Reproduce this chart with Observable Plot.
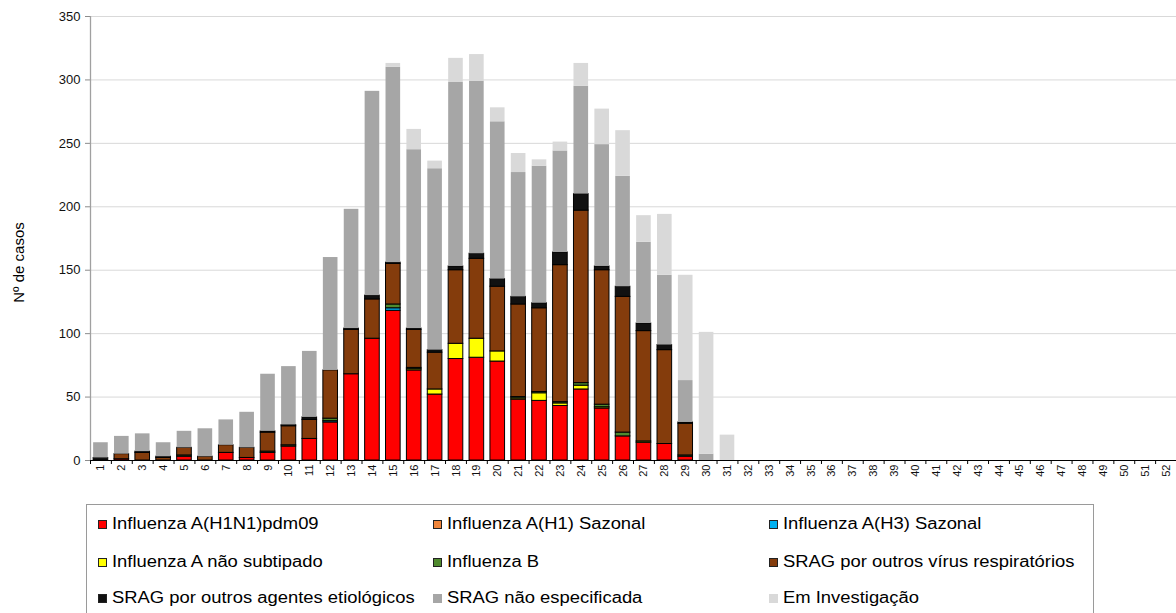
<!DOCTYPE html>
<html><head><meta charset="utf-8">
<script src="https://cdn.jsdelivr.net/npm/d3@7"></script>
<script src="https://cdn.jsdelivr.net/npm/@observablehq/plot@0.6"></script>
<style>
html,body{margin:0;padding:0;background:#fff;overflow:hidden;width:1176px;height:613px;}
#chart{position:absolute;left:0;top:0;width:1176px;}
#chart svg{max-width:none !important;}
#chart svg g[aria-label^="x-axis"] text{font-size:11px;}
#chart svg g[aria-label^="y-axis"] text{font-size:13px;}
#chart svg g[aria-label^="y-axis"] line, #chart svg g[aria-label^="y-axis"] path{stroke:#8c8c8c;}
#legend{position:absolute;left:86px;top:504px;width:1008px;height:140px;border:1px solid #9a9a9a;box-sizing:border-box;font-family:"Liberation Sans",Arial,sans-serif;background:#fff;}
.item{position:absolute;display:flex;align-items:center;height:20px;white-space:nowrap;}
.sw{width:7px;height:7px;border:1px solid #222;margin-right:5px;flex:none;}
.lbl{font-size:16px;color:#000;display:inline-block;transform:scaleX(1.15);transform-origin:left center;}
</style></head>
<body><div id="chart"></div><div id="legend"></div>
<script>
const weeks = [1,2,3,4,5,6,7,8,9,10,11,12,13,14,15,16,17,18,19,20,21,22,23,24,25,26,27,28,29,30,31,32,33,34,35,36,37,38,39,40,41,42,43,44,45,46,47,48,49,50,51,52];
const yTicks = [0,50,100,150,200,250,300,350];
const series = ["Influenza A(H1N1)pdm09","Influenza A(H1) Sazonal","Influenza A(H3) Sazonal","Influenza A não subtipado","Influenza B","SRAG por outros vírus respiratórios","SRAG por outros agentes etiológicos","SRAG não especificada","Em Investigação"];
const colors = ["#ff0000","#f0853a","#00b0f0","#ffff00","#4f8a2e","#843c0c","#111111","#a6a6a6","#d9d9d9"];
const outlined = ["Influenza A(H1N1)pdm09","Influenza A(H1) Sazonal","Influenza A(H3) Sazonal","Influenza A não subtipado","Influenza B","SRAG por outros vírus respiratórios","SRAG por outros agentes etiológicos"];

const h1n1     = [0,1,0,0,3,0,6,2,6,11,17,30,68,96,118,71,52,80,81,78,48,47,43,56,41,19,14,13,3,0,0,0,0,0,0,0,0,0,0,0,0,0,0,0,0,0,0,0,0,0,0,0];
const h1saz    = [0,0,0,0,0,0,0,0,0,0,0,0,0,0,0,0,0,0,0,0,0,0,0,0,0,0,0,0,0,0,0,0,0,0,0,0,0,0,0,0,0,0,0,0,0,0,0,0,0,0,0,0];
const h3saz    = [0,0,0,0,0,0,0,0,0,0,0,1,0,0,2,0,0,0,0,0,0,0,0,0,0,0,0,0,0,0,0,0,0,0,0,0,0,0,0,0,0,0,0,0,0,0,0,0,0,0,0,0];
const naoSub   = [0,0,0,0,0,0,0,0,0,0,0,0,0,0,0,1,4,12,15,8,1,6,2,3,1,0,1,0,0,0,0,0,0,0,0,0,0,0,0,0,0,0,0,0,0,0,0,0,0,0,0,0];
const fluB     = [0,0,0,0,1,0,0,0,1,1,0,2,0,0,3,1,0,0,0,0,1,1,1,2,2,3,0,0,1,0,0,0,0,0,0,0,0,0,0,0,0,0,0,0,0,0,0,0,0,0,0,0];
const outVir   = [0,4,6,2,6,3,6,8,15,15,15,38,35,31,32,30,29,58,63,51,73,66,108,136,106,107,87,74,25,0,0,0,0,0,0,0,0,0,0,0,0,0,0,0,0,0,0,0,0,0,0,0];
const outAg    = [2,0,1,1,0,0,0,0,1,1,2,0,1,3,1,1,2,3,4,6,6,4,10,13,3,8,6,4,1,0,0,0,0,0,0,0,0,0,0,0,0,0,0,0,0,0,0,0,0,0,0,0];
const naoEsp   = [12,14,14,11,13,22,20,28,45,46,52,89,94,161,154,141,143,145,136,124,98,108,80,85,96,87,64,55,33,5,0,0,0,0,0,0,0,0,0,0,0,0,0,0,0,0,0,0,0,0,0,0];
const emInv    = [0,0,0,0,0,0,0,0,0,0,0,0,0,0,3,16,6,19,21,11,15,5,7,18,28,36,21,48,83,96,20,0,0,0,0,0,0,0,0,0,0,0,0,0,0,0,0,0,0,0,0,0];
const values = [h1n1,h1saz,h3saz,naoSub,fluB,outVir,outAg,naoEsp,emInv];

const data = [];
weeks.forEach((w, i) => series.forEach((s, j) => {
  const v = values[j][i];
  if (v > 0) data.push({week: w, series: s, value: v});
}));

const W = 1176, H = 495, ML = 90, MR = 0;
const step = (W - ML - MR) / weeks.length;

const chart = Plot.plot({
  width: W, height: H, marginLeft: ML, marginRight: MR, marginTop: 16, marginBottom: 35,
  style: {fontFamily: "'Liberation Sans', Arial, sans-serif", fontSize: "12px", background: "white", color: "#111", maxWidth: "none"},
  x: {type: "band", domain: weeks, paddingInner: 0.3, paddingOuter: 0.15, tickSize: 0, tickPadding: 4, tickRotate: -90, label: null},
  y: {domain: [0, 350], ticks: yTicks, tickSize: 5, tickPadding: 5, label: null},
  color: {domain: series, range: colors},
  opacity: {domain: [0, 1], range: [0, 1]},
  marks: [
    Plot.ruleY(yTicks.filter(t => t > 0), {stroke: "#d9d9d9", strokeWidth: 1}),
    Plot.barY(data, {x: "week", y: "value", fill: "series", order: series, stroke: "#000", strokeWidth: 1,
      strokeOpacity: d => outlined.includes(d.series) ? 1 : 0}),
    Plot.ruleY([0], {stroke: "#000", strokeWidth: 1}),
    Plot.ruleX([weeks[0]], {x: d => d, y1: 0, y2: 350, dx: -step / 2, stroke: "#a0a0a0", strokeWidth: 1.3}),
    Plot.ruleX(weeks, {x: d => d, y1: 0, y2: 0, dx: -step / 2, insetBottom: -4, stroke: "#000"}),
    Plot.text(["Nº de casos"], {frameAnchor: "left", textAnchor: "middle", rotate: -90, dx: -71, dy: 24, fontSize: 15, fill: "#000"})
  ]
});
document.getElementById("chart").appendChild(chart);

const legend = document.getElementById("legend");
const colLeft = [11, 346, 682];
const rowTop = [9, 47, 83];
series.forEach((s, i) => {
  const it = document.createElement("div");
  it.className = "item";
  it.style.left = colLeft[i % 3] + "px";
  it.style.top = rowTop[Math.floor(i / 3)] + "px";
  const sw = document.createElement("span");
  sw.className = "sw";
  sw.style.background = colors[i];
  if (!outlined.includes(s)) sw.style.borderColor = colors[i];
  const lb = document.createElement("span");
  lb.className = "lbl";
  lb.textContent = s;
  it.appendChild(sw); it.appendChild(lb);
  legend.appendChild(it);
});
</script>
</body></html>
